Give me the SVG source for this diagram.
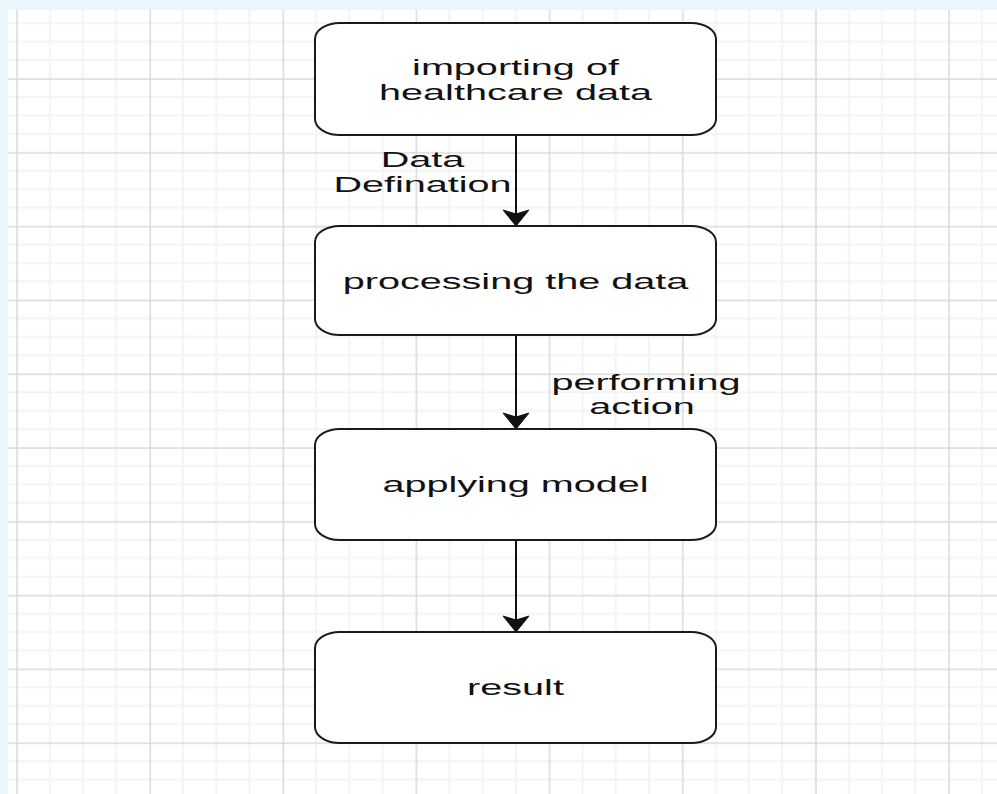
<svg xmlns="http://www.w3.org/2000/svg" width="997" height="794" viewBox="0 0 997 794">
  <style>
    .node rect { fill: #ffffff; stroke: #1a1a1a; stroke-width: 2; }
    .lbl { font-family: "Liberation Sans", Arial, sans-serif; font-size: 22px; fill: #111111; text-anchor: middle; }
    .edge { stroke: #111111; stroke-width: 2; fill: none; }
    .head { fill: #111111; stroke: #111111; stroke-width: 1; stroke-linejoin: miter; }
  </style>
  <defs>
    <pattern id="grid" patternUnits="userSpaceOnUse" x="16" y="78" width="133.15" height="73.8">
      <rect x="0" y="0" width="133.15" height="73.8" fill="#ffffff"/>
      <rect x="32.8" y="0" width="2" height="73.8" fill="#f4f4f4"/>
      <rect x="66.1" y="0" width="2" height="73.8" fill="#f4f4f4"/>
      <rect x="99.4" y="0" width="2" height="73.8" fill="#f4f4f4"/>
      <rect x="0" y="18.0" width="133.15" height="2" fill="#f4f4f4"/>
      <rect x="0" y="36.4" width="133.15" height="2" fill="#f4f4f4"/>
      <rect x="0" y="54.9" width="133.15" height="2" fill="#f4f4f4"/>
      <rect x="0.3" y="0" width="1.5" height="73.8" fill="#dadada"/>
      <rect x="0" y="0.3" width="133.15" height="1.5" fill="#dadada"/>
    </pattern>
  </defs>

  <rect x="0" y="0" width="997" height="794" fill="#e9f7fd"/>
  <rect x="8" y="10" width="989" height="784" fill="url(#grid)"/>

  <g id="connectors">
    <g id="edge1">
      <line class="edge" x1="516" y1="135" x2="516" y2="214"/>
      <path class="head" d="M516,226 L503,210 L516,214 L529,210 Z"/>
      <text class="lbl" transform="translate(422.5,166.5) scale(1.8,1)">Data</text>
      <text class="lbl" transform="translate(422.5,192) scale(1.8,1)">Defination</text>
    </g>
    <g id="edge2">
      <line class="edge" x1="516" y1="335" x2="516" y2="417"/>
      <path class="head" d="M516,429 L503,413 L516,417 L529,413 Z"/>
      <text class="lbl" transform="translate(646,389.5) scale(1.8,1)">performing</text>
      <text class="lbl" transform="translate(642,413.5) scale(1.8,1)">action</text>
    </g>
    <g id="edge3">
      <line class="edge" x1="516" y1="540" x2="516" y2="620"/>
      <path class="head" d="M516,632 L503,616 L516,620 L529,616 Z"/>
    </g>
  </g>

  <g id="node-import" class="node">
    <rect x="315" y="23" width="401" height="112" rx="25" ry="16"/>
    <text class="lbl" transform="translate(515.5,75) scale(1.8,1)">importing of</text>
    <text class="lbl" transform="translate(515.5,100) scale(1.8,1)">healthcare data</text>
  </g>
  <g id="node-process" class="node">
    <rect x="315" y="226" width="401" height="109" rx="25" ry="16"/>
    <text class="lbl" transform="translate(515.5,289) scale(1.8,1)">processing the data</text>
  </g>
  <g id="node-model" class="node">
    <rect x="315" y="429" width="401" height="111" rx="25" ry="16"/>
    <text class="lbl" transform="translate(515.5,492) scale(1.8,1)">applying model</text>
  </g>
  <g id="node-result" class="node">
    <rect x="315" y="632" width="401" height="111" rx="25" ry="16"/>
    <text class="lbl" transform="translate(515.5,695) scale(1.8,1)">result</text>
  </g>
</svg>
